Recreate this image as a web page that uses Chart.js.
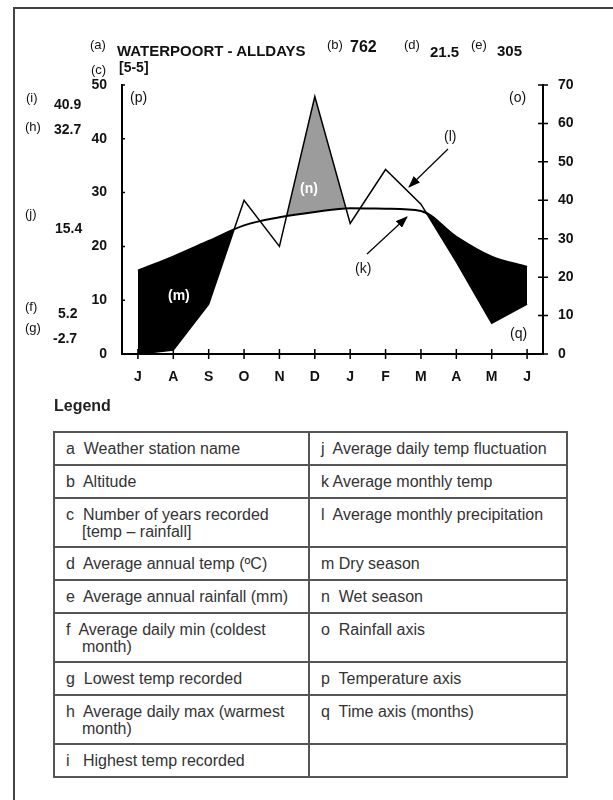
<!DOCTYPE html>
<html>
<head>
<meta charset="utf-8">
<script src="https://cdn.jsdelivr.net/npm/chart.js@4.4.1/dist/chart.umd.min.js"></script>
<style>
  body { margin: 0; background: #fff; font-family: "Liberation Sans", Arial, sans-serif; }
  #page { position: relative; width: 613px; height: 800px; overflow: hidden; }
  #frame { position: absolute; left: 13px; top: 7px; width: 700px; height: 900px;
           border-left: 2px solid #444; border-top: 2px solid #444; }
  #chart { position: absolute; left: 0; top: 0; }
  #arrows { position: absolute; left: 0; top: 0; }
  .t { position: absolute; line-height: 1; white-space: nowrap; color: #111; }
  .s { font-size: 13px; }
  .v { font-size: 14px; font-weight: bold; }
  .w { color: #fff; font-weight: bold; font-size: 14px; }
  #legendTitle { position: absolute; left: 54px; top: 397px; font-size: 16px; font-weight: bold; color: #222; }
  table { position: absolute; left: 53px; top: 431px; width: 515px; border-collapse: collapse;
          font-size: 16px; color: #333; }
  td { border: 2px solid #555; vertical-align: top; padding: 7px 8px 0 11px; line-height: 17px; }
  td.c1 { width: 234px; }
  .h { display: block; padding-left: 16px; text-indent: -16px; }
</style>
</head>
<body>
<div id="page">
  <div id="frame"></div>
  <canvas id="chart" width="613" height="400"></canvas>
  <svg id="arrows" width="613" height="400">
    <defs>
      <marker id="ah" markerWidth="12" markerHeight="9" refX="11" refY="4.5" orient="auto" markerUnits="userSpaceOnUse">
        <path d="M0,0 L12,4.5 L0,9 z" fill="#000"/>
      </marker>
    </defs>
    <line x1="448" y1="149" x2="409" y2="187" stroke="#000" stroke-width="1.2" marker-end="url(#ah)"/>
    <line x1="367" y1="254" x2="407" y2="217" stroke="#000" stroke-width="1.2" marker-end="url(#ah)"/>
  </svg>

  <div class="t s" style="left:90px;top:38px">(a)</div>
  <div class="t" style="left:117px;top:43px;font-size:15px;font-weight:bold">WATERPOORT - ALLDAYS</div>
  <div class="t s" style="left:327px;top:38px">(b)</div>
  <div class="t" style="left:350px;top:39px;font-size:16px;font-weight:bold">762</div>
  <div class="t s" style="left:404px;top:38px">(d)</div>
  <div class="t" style="left:430px;top:44px;font-size:15px;font-weight:bold">21.5</div>
  <div class="t s" style="left:471px;top:38px">(e)</div>
  <div class="t" style="left:497px;top:43px;font-size:15px;font-weight:bold">305</div>
  <div class="t s" style="left:91px;top:63px">(c)</div>
  <div class="t v" style="left:119px;top:60px">[5-5]</div>

  <div class="t s" style="left:26px;top:91px">(i)</div>
  <div class="t v" style="left:54px;top:97px">40.9</div>
  <div class="t s" style="left:25px;top:120px">(h)</div>
  <div class="t v" style="left:54px;top:122px">32.7</div>
  <div class="t s" style="left:25px;top:207px">(j)</div>
  <div class="t v" style="left:55px;top:221px">15.4</div>
  <div class="t s" style="left:25px;top:300px">(f)</div>
  <div class="t v" style="left:58px;top:306px">5.2</div>
  <div class="t s" style="left:25px;top:321px">(g)</div>
  <div class="t v" style="left:53px;top:331px">-2.7</div>

  <div class="t" style="left:130px;top:90px;font-size:14px">(p)</div>
  <div class="t" style="left:509px;top:90px;font-size:14px">(o)</div>
  <div class="t" style="left:444px;top:129px;font-size:14px">(l)</div>
  <div class="t" style="left:355px;top:261px;font-size:14px">(k)</div>
  <div class="t" style="left:510px;top:326px;font-size:14px">(q)</div>
  <div class="t w" style="left:300px;top:181px">(n)</div>
  <div class="t w" style="left:168px;top:288px">(m)</div>

  <div id="legendTitle">Legend</div>
  <table>
    <tr style="height:33px"><td class="c1">a&nbsp; Weather station name</td><td>j&nbsp; Average daily temp fluctuation</td></tr>
    <tr style="height:33px"><td class="c1">b&nbsp; Altitude</td><td>k Average monthly temp</td></tr>
    <tr style="height:49px"><td class="c1"><span class="h">c&nbsp; Number of years recorded [temp – rainfall]</span></td><td>l&nbsp; Average monthly precipitation</td></tr>
    <tr style="height:33px"><td class="c1">d&nbsp; Average annual temp (ºC)</td><td>m Dry season</td></tr>
    <tr style="height:33px"><td class="c1">e&nbsp; Average annual rainfall (mm)</td><td>n&nbsp; Wet season</td></tr>
    <tr style="height:49px"><td class="c1"><span class="h">f&nbsp; Average daily min (coldest month)</span></td><td>o&nbsp; Rainfall axis</td></tr>
    <tr style="height:33px"><td class="c1">g&nbsp; Lowest temp recorded</td><td>p&nbsp; Temperature axis</td></tr>
    <tr style="height:49px"><td class="c1"><span class="h">h&nbsp; Average daily max (warmest month)</span></td><td>q&nbsp; Time axis (months)</td></tr>
    <tr style="height:33px"><td class="c1">i&nbsp;&nbsp; Highest temp recorded</td><td></td></tr>
  </table>
</div>

<script>
// months from July to June
const months = ["J", "A", "S", "O", "N", "D", "J", "F", "M", "A", "M", "J"];
// average monthly temp (left axis, °C)
const avgTemp = [15.5, 18.1, 21, 23.9, 25.4, 26.4, 27.1, 27, 26.6, 21.8, 18.1, 16.2];
// average monthly precipitation (right axis, mm)
const avgRain = [0, 1, 13, 40, 28, 67, 34, 48, 39, 24, 8, 13];
const tempTicks = [0, 10, 20, 30, 40, 50];
const rainTicks = [0, 10, 20, 30, 40, 50, 60, 70];
// month index ranges that get shaded
const dryRanges = [[0, 3], [8, 11]];
const wetRange = [4, 6];

Chart.defaults.font.family = '"Liberation Sans", Arial, sans-serif';
Chart.defaults.color = "#111";

// x is the month index so the linear x scale can place it
function points(values, range) {
  return values.map((v, i) => ({
    x: i,
    y: !range || (i >= range[0] && i <= range[1]) ? v : null,
  }));
}

const dryDatasets = dryRanges.map((r) => ({
  data: points(avgRain, r),
  yAxisID: "yr",
  borderWidth: 0,
  borderColor: "rgba(0,0,0,0)",
  pointRadius: 0,
  fill: { target: 0, above: "rgba(0,0,0,0)", below: "#000" },
}));

// draws "+" marks across the x axis and right axis
const crossTicks = {
  id: "crossTicks",
  afterDraw(chart) {
    const { ctx, scales } = chart;
    const x = scales.x, y = scales.y, yr = scales.yr;
    ctx.save();
    ctx.strokeStyle = "#000";
    ctx.lineWidth = 1.5;
    ctx.beginPath();
    x.ticks.forEach((t) => {
      const px = x.getPixelForValue(t.value);
      ctx.moveTo(px, x.top - 5);
      ctx.lineTo(px, x.top + 5);
    });
    yr.ticks.forEach((t) => {
      const py = yr.getPixelForValue(t.value);
      ctx.moveTo(yr.left - 5, py);
      ctx.lineTo(yr.left + 5, py);
    });
    y.ticks.forEach((t) => {
      const py = y.getPixelForValue(t.value);
      ctx.moveTo(y.right, py);
      ctx.lineTo(y.right + 3, py);
    });
    ctx.stroke();
    ctx.restore();
  },
};

new Chart(document.getElementById("chart"), {
  type: "line",
  data: {
    datasets: [
      {
        label: "Average monthly temp",
        data: points(avgTemp),
        yAxisID: "y",
        borderColor: "#000",
        borderWidth: 2,
        pointRadius: 0,
        cubicInterpolationMode: "monotone",
        fill: false,
      },
      {
        label: "Average monthly precipitation",
        data: points(avgRain),
        yAxisID: "yr",
        borderColor: "#000",
        borderWidth: 1.5,
        pointRadius: 0,
        tension: 0,
        fill: false,
      },
      ...dryDatasets,
      {
        data: points(avgRain, wetRange),
        yAxisID: "yr",
        borderWidth: 0,
        borderColor: "rgba(0,0,0,0)",
        pointRadius: 0,
        fill: { target: 0, above: "#9c9c9c", below: "rgba(0,0,0,0)" },
      },
    ],
  },
  options: {
    responsive: false,
    animation: false,
    layout: { padding: { top: 85, left: 0, right: 0, bottom: 0 } },
    plugins: { legend: { display: false }, tooltip: { enabled: false } },
    scales: {
      x: {
        type: "linear",
        min: -0.45,
        max: 11.45,
        afterBuildTicks: (scale) => {
          scale.ticks = months.map((m, i) => ({ value: i }));
        },
        afterFit: (scale) => {
          scale.height = 46;
        },
        grid: { display: false },
        border: { display: true, color: "#000", width: 2 },
        ticks: {
          autoSkip: false,
          maxRotation: 0,
          padding: 7,
          font: { size: 14, weight: "bold" },
          callback: (v) => months[v],
        },
      },
      y: {
        position: "left",
        min: 0,
        max: 50,
        afterBuildTicks: (scale) => {
          scale.ticks = tempTicks.map((v) => ({ value: v }));
        },
        afterFit: (scale) => {
          scale.width = 122;
        },
        grid: { display: false },
        border: { display: true, color: "#000", width: 2 },
        ticks: { padding: 7, font: { size: 14, weight: "bold" } },
      },
      yr: {
        position: "right",
        min: 0,
        max: 70,
        afterBuildTicks: (scale) => {
          scale.ticks = rainTicks.map((v) => ({ value: v }));
        },
        afterFit: (scale) => {
          scale.width = 70;
        },
        grid: { display: false },
        border: { display: true, color: "#000", width: 2 },
        ticks: { padding: 7, font: { size: 14, weight: "bold" } },
      },
    },
  },
  plugins: [crossTicks],
});
</script>
</body>
</html>
